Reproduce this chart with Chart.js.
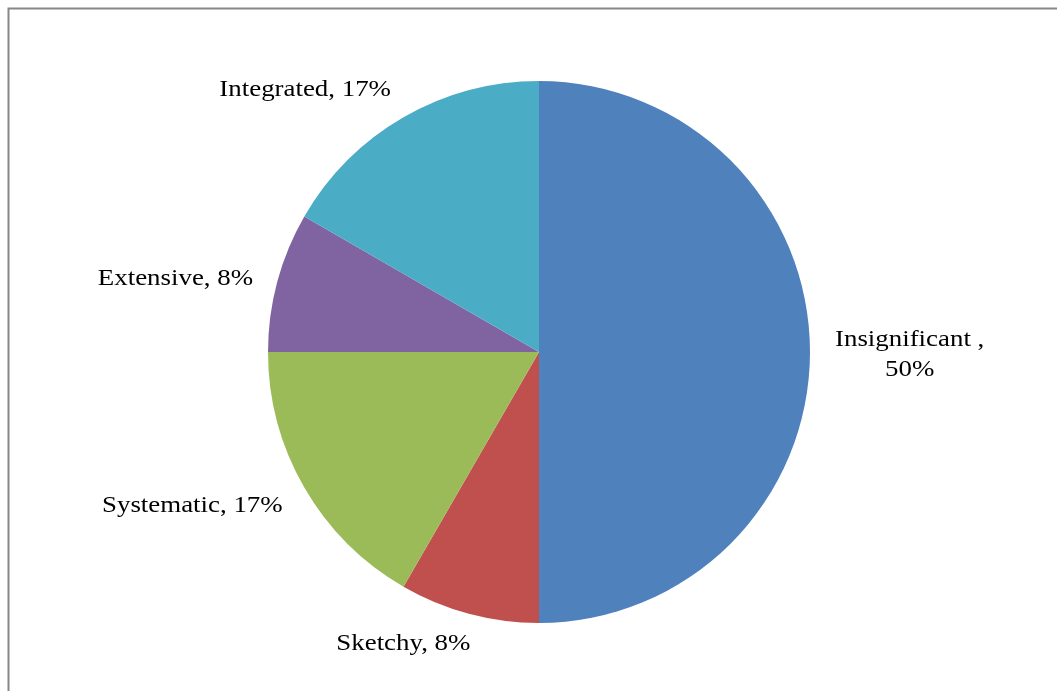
<!DOCTYPE html>
<html>
<head>
<meta charset="utf-8">
<script src="https://cdn.jsdelivr.net/npm/chart.js@4"></script>
<style>
    html, body { margin: 0; padding: 0; background: #fff; }
    #chart { display: block; }
</style>
</head>
<body>
<canvas id="chart" width="1057" height="691"></canvas>
<script>
const categories = ['Insignificant ', 'Sketchy', 'Systematic', 'Extensive', 'Integrated'];
const counts = [6, 1, 2, 1, 2];
const sliceColors = ['#4F81BD', '#C0504D', '#9BBB59', '#8064A2', '#4BACC6'];

const labelFont = '24px "Liberation Serif", "Times New Roman", serif';
const stretchX = 1.12; // the original text is a bit wider than Liberation Serif

/**
 * Grey frame like the one around the original Excel chart
 */
const framePlugin = {
    id: 'frame',
    beforeDraw(chart) {
        const ctx = chart.ctx;
        ctx.save();
        ctx.strokeStyle = '#878787';
        ctx.lineWidth = 2;
        ctx.beginPath();
        ctx.moveTo(8.5, chart.height);
        ctx.lineTo(8.5, 8.5);
        ctx.lineTo(chart.width, 8.5);
        ctx.stroke();
        ctx.restore();
    }
};

/**
 * "Name, NN%" labels placed just outside each slice
 */
const outsideLabels = {
    id: 'outsideLabels',
    afterDatasetsDraw(chart) {
        const ctx = chart.ctx;
        const meta = chart.getDatasetMeta(0);
        const total = counts.reduce((a, b) => a + b, 0);
        ctx.save();
        ctx.font = labelFont;
        ctx.fillStyle = '#000';
        meta.data.forEach((arc, i) => {
            const p = arc.getProps(['x', 'y', 'startAngle', 'endAngle', 'outerRadius'], true);
            const mid = (p.startAngle + p.endAngle) / 2;
            const dx = Math.cos(mid), dy = Math.sin(mid);
            const r = p.outerRadius + 25;
            const ax = p.x + dx * r;
            const ay = p.y + dy * r;
            const pct = Math.round(counts[i] / total * 100) + '%';

            // the big slice gets its label on two lines
            const lines = i === 0 ? [categories[i] + ',', pct] : [categories[i] + ', ' + pct];
            const lineH = 30;
            const w = Math.max(...lines.map(t => ctx.measureText(t).width)) * stretchX;
            const h = lines.length * lineH;

            const f = Math.min(1, Math.max(0, 0.5 - 1.7 * dx));
            const left = ax - f * w;
            let cy = ay + 3;
            if (dy > 0.3) cy = ay + 6;
            else if (dy < -0.3) cy = ay - 6;
            const top = cy - h / 2;

            ctx.textAlign = 'center';
            ctx.textBaseline = 'middle';
            lines.forEach((t, k) => {
                ctx.save();
                ctx.translate(left + w / 2, top + lineH * (k + 0.5));
                ctx.scale(stretchX, 1);
                ctx.fillText(t, 0, 0);
                ctx.restore();
            });
        });
        ctx.restore();
    }
};

new Chart(document.getElementById('chart'), {
    type: 'pie',
    data: {
        labels: categories,
        datasets: [{
            data: counts,
            backgroundColor: sliceColors,
            borderWidth: 0
        }]
    },
    options: {
        responsive: false,
        animation: false,
        layout: { padding: { left: 268, right: 247, top: 81, bottom: 68 } },
        plugins: {
            legend: { display: false },
            tooltip: { enabled: false }
        }
    },
    plugins: [framePlugin, outsideLabels]
});
</script>
</body>
</html>
